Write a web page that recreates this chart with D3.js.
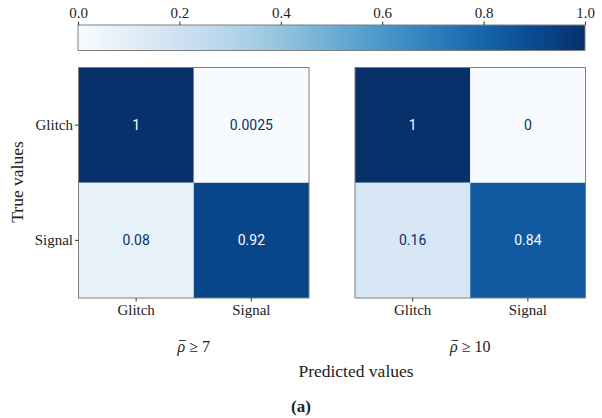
<!DOCTYPE html>
<html>
<head>
<meta charset="utf-8">
<script src="https://cdn.jsdelivr.net/npm/d3@7"></script>
<style>
  html, body { margin: 0; padding: 0; background: #fff; }
  svg { display: block; }
  .serif { font-family: "Liberation Serif", "DejaVu Serif", serif; fill: #222; }
  .cell-label { font-family: Roboto, "DejaVu Sans", sans-serif; }
</style>
</head>
<body>
<svg id="chart" width="602" height="418"></svg>
<script>
// Class labels shared by both confusion matrices
const classes = ["Glitch", "Signal"];
// Normalised confusion matrices, rows = true class, columns = predicted class
const matrixRho7  = [[1, 0.0025], [0.08, 0.92]];
const matrixRho10 = [[1, 0], [0.16, 0.84]];
const panelThresholds = ["7", "10"];
const colorbarTicks = [0.0, 0.2, 0.4, 0.6, 0.8, 1.0];

const panels = [
  { values: matrixRho7,  threshold: panelThresholds[0] },
  { values: matrixRho10, threshold: panelThresholds[1] }
];

const svg = d3.select("#chart");
const color = d3.scaleSequential(d3.interpolateBlues).domain([0, 1]);

const panelTop = 67.5, panelSize = 230.5;
const panelLefts = [78.5, 355];
const edgeColor = "#7f7f7f";
const tickFont = "15px";

// ---- colour bar ----
const cbX = d3.scaleLinear().domain([0, 1]).range([78, 585]);
const cbTop = 25, cbHeight = 25.5;
const defs = svg.append("defs");
const grad = defs.append("linearGradient").attr("id", "cbgrad")
  .attr("x1", "0%").attr("x2", "100%").attr("y1", "0%").attr("y2", "0%");
d3.range(0, 1.0001, 0.05).forEach(t => {
  grad.append("stop").attr("offset", (t * 100) + "%").attr("stop-color", color(t));
});
svg.append("rect")
  .attr("x", cbX(0)).attr("y", cbTop)
  .attr("width", cbX(1) - cbX(0)).attr("height", cbHeight)
  .attr("fill", "url(#cbgrad)")
  .attr("stroke", edgeColor).attr("stroke-width", 1);
const cbAxis = d3.axisTop(cbX).tickValues(colorbarTicks)
  .tickFormat(d3.format(".1f")).tickSize(3.5).tickPadding(4);
const cbG = svg.append("g").attr("transform", `translate(0,${cbTop})`).call(cbAxis);
cbG.select(".domain").remove();
cbG.selectAll(".tick line").attr("stroke", "#333");
cbG.selectAll(".tick text").attr("class", "serif")
  .style("font-size", tickFont).attr("fill", "#222");

// ---- confusion matrix panels ----
panels.forEach((p, i) => {
  const x0 = panelLefts[i];
  const x = d3.scaleBand().domain(classes).range([x0, x0 + panelSize]);
  const y = d3.scaleBand().domain(classes).range([panelTop, panelTop + panelSize]);
  const g = svg.append("g");

  const cells = [];
  p.values.forEach((row, r) => row.forEach((v, c) => cells.push({ r, c, v })));

  g.selectAll("rect.cell").data(cells).enter().append("rect")
    .attr("class", "cell")
    .attr("x", d => x(classes[d.c]))
    .attr("y", d => y(classes[d.r]))
    .attr("width", x.bandwidth()).attr("height", y.bandwidth())
    .attr("fill", d => color(d.v));

  g.selectAll("text.cell-label").data(cells).enter().append("text")
    .attr("class", "cell-label")
    .attr("x", d => x(classes[d.c]) + x.bandwidth() / 2)
    .attr("y", d => y(classes[d.r]) + y.bandwidth() / 2)
    .attr("text-anchor", "middle").attr("dominant-baseline", "central")
    .style("font-size", "14px")
    .attr("fill", d => d.v > 0.5 ? "#f7fbff" : "#08306b")
    .text(d => String(d.v));

  g.append("rect")
    .attr("x", x0).attr("y", panelTop)
    .attr("width", panelSize).attr("height", panelSize)
    .attr("fill", "none").attr("stroke", edgeColor).attr("stroke-width", 1);

  const xAxis = d3.axisBottom(x).tickSize(3.5).tickPadding(3);
  const xg = g.append("g").attr("transform", `translate(0,${panelTop + panelSize})`).call(xAxis);
  xg.select(".domain").remove();
  xg.selectAll(".tick line").attr("stroke", "#333");
  xg.selectAll(".tick text").attr("class", "serif").style("font-size", tickFont).attr("fill", "#222");

  if (i === 0) {
    const yAxis = d3.axisLeft(y).tickSize(3.5).tickPadding(2);
    const yg = g.append("g").attr("transform", `translate(${x0},0)`).call(yAxis);
    yg.select(".domain").remove();
    yg.selectAll(".tick line").attr("stroke", "#333");
    yg.selectAll(".tick text").attr("class", "serif").style("font-size", tickFont).attr("fill", "#222");
  }

  // threshold caption under each panel: rho-bar >= value
  const cap = g.append("text").attr("class", "serif")
    .attr("x", x0 + panelSize / 2).attr("y", 352)
    .attr("text-anchor", "middle").style("font-size", "16px");
  cap.append("tspan").style("font-style", "italic").text("\u03C1");
  cap.append("tspan").text(" \u2265 " + p.threshold);
  const node = cap.node();
  const rhoBox = node.getExtentOfChar(0);
  g.append("line")
    .attr("x1", rhoBox.x + 1.5).attr("x2", rhoBox.x + rhoBox.width + 0.5)
    .attr("y1", 340.5).attr("y2", 340.5)
    .attr("stroke", "#222").attr("stroke-width", 0.9);
});

// ---- shared axis titles ----
svg.append("text").attr("class", "serif")
  .attr("transform", "translate(23,182) rotate(-90)")
  .attr("text-anchor", "middle").style("font-size", "17.5px")
  .text("True values");

svg.append("text").attr("class", "serif")
  .attr("x", 356).attr("y", 377)
  .attr("text-anchor", "middle").style("font-size", "17.5px")
  .text("Predicted values");

svg.append("text").attr("class", "serif")
  .attr("x", 301).attr("y", 412)
  .attr("text-anchor", "middle").style("font-size", "17px").style("font-weight", "bold")
  .text("(a)");
</script>
</body>
</html>
